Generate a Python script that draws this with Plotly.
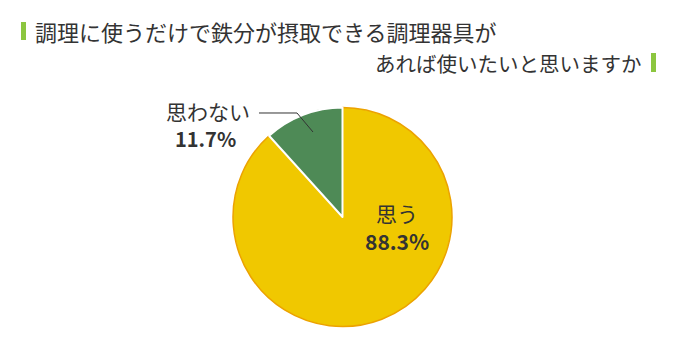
import plotly.graph_objects as go

labels = ["思う", "思わない"]
values = [88.3, 11.7]
colors = ["#f0c800", "#4e8a56"]
title_line1 = "調理に使うだけで鉄分が摂取できる調理器具が"
title_line2 = "あれば使いたいと思いますか"

W, H = 680, 343
FONT = "Noto Sans CJK JP"
TXT = "#333333"

cx, cy, r = 342.5, 217.0, 109.5

fig = go.Figure(go.Pie(
    labels=labels, values=values, sort=False, direction="clockwise", rotation=0,
    marker=dict(colors=colors, line=dict(color=["#eca200", "#ffffff"], width=[1.5, 2])),
    textinfo="none", hoverinfo="label+percent", showlegend=False,
    domain=dict(x=[(cx - r) / W, (cx + r) / W], y=[(H - cy - r) / H, (H - cy + r) / H]),
))

def px(x):
    return x / W

def py(y):
    return 1 - y / H

ann = [
    dict(x=px(33), y=py(31), text=title_line1, xanchor="left", yanchor="middle",
         font=dict(size=22, color=TXT, family=FONT)),
    dict(x=px(644), y=py(63), text=title_line2, xanchor="right", yanchor="middle",
         font=dict(size=20.5, color=TXT, family=FONT)),
    dict(x=px(397), y=py(213), text=labels[0], xanchor="center", yanchor="middle",
         font=dict(size=21, color=TXT, family=FONT)),
    dict(x=px(397), y=py(241), text="<b>%.1f%%</b>" % values[0], xanchor="center", yanchor="middle",
         font=dict(size=21, color=TXT, family=FONT)),
    dict(x=px(208), y=py(111), text=labels[1], xanchor="center", yanchor="middle",
         font=dict(size=21, color=TXT, family=FONT)),
    dict(x=px(205), y=py(138), text="<b>%.1f%%</b>" % values[1], xanchor="center", yanchor="middle",
         font=dict(size=20, color=TXT, family=FONT)),
]
for a in ann:
    a.update(xref="paper", yref="paper", showarrow=False)

shapes = [
    dict(type="rect", xref="paper", yref="paper", x0=px(21), x1=px(26), y0=py(40), y1=py(22),
         fillcolor="#8cc63f", line=dict(width=0)),
    dict(type="rect", xref="paper", yref="paper", x0=px(651), x1=px(656), y0=py(72), y1=py(53),
         fillcolor="#8cc63f", line=dict(width=0)),
    dict(type="path", xref="paper", yref="paper",
         path="M %f %f L %f %f L %f %f" % (px(259), py(113), px(297), py(113), px(313), py(132)),
         line=dict(color="#333333", width=1)),
]

fig.update_layout(
    width=W, height=H, margin=dict(l=0, r=0, t=0, b=0),
    paper_bgcolor="white", plot_bgcolor="white",
    annotations=ann, shapes=shapes,
    font=dict(family=FONT),
)

fig.write_html("out.html")
